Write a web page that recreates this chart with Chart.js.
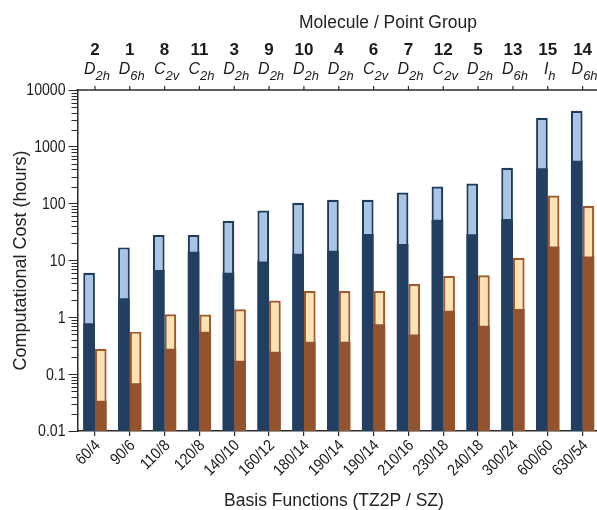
<!DOCTYPE html>
<html>
<head>
<meta charset="utf-8">
<script src="https://cdn.jsdelivr.net/npm/chart.js@4.4.1/dist/chart.umd.min.js"></script>
<style>
  html, body { margin: 0; padding: 0; background: #fff; overflow: hidden; }
  #wrap { width: 600px; height: 510px; position: relative; }
</style>
</head>
<body>
<div id="wrap"><canvas id="grafico"></canvas></div>
<script>
// basis functions (TZ2P / SZ) per molecule
const basisLabels = ["60/4", "90/6", "110/8", "120/8", "140/10", "160/12", "180/14", "190/14",
  "190/14", "210/16", "230/18", "240/18", "300/24", "600/60", "630/54"];
const moleculeIds = ["2", "1", "8", "11", "3", "9", "10", "4", "6", "7", "12", "5", "13", "15", "14"];
const groupLetter = ["D", "D", "C", "C", "D", "D", "D", "D", "C", "D", "C", "D", "D", "I", "D"];
const groupSub = ["2h", "6h", "2v", "2h", "2h", "2h", "2h", "2h", "2v", "2h", "2v", "2h", "6h", "h", "6h"];

// cost in hours: TZ2P (blue) and SZ (orange), total and partial part
const tz2pTotal = [6.1, 17, 28, 28, 50, 76, 104, 117, 117, 157, 200, 226, 427, 3240, 4300];
const tz2pPart = [0.79, 2.17, 6.8, 14.3, 6.1, 9.6, 13.1, 14.8, 29.4, 19.6, 52, 29, 54, 422, 567];
const szTotal = [0.28, 0.56, 1.13, 1.12, 1.39, 1.97, 2.92, 2.92, 2.92, 3.87, 5.36, 5.5, 11.2, 139, 91];
const szPart = [0.034, 0.069, 0.28, 0.56, 0.173, 0.249, 0.373, 0.373, 0.755, 0.5, 1.31, 0.71, 1.4, 17.6, 11.7];

const yTicks = [0.01, 0.1, 1, 10, 100, 1000, 10000];

const FONT = "'Liberation Sans', Arial, Helvetica, sans-serif";
const AXIS = "#2b2b2b";
const SQUEEZE = 0.88; // slightly narrow tick numbers

// extra axis decoration: top axis with molecule numbers, minor log ticks, labels, titles
const decoracao = {
  id: "decoracao",
  afterDraw(chart) {
    const { ctx, chartArea: a, scales: { x, y } } = chart;
    ctx.save();
    ctx.strokeStyle = AXIS;
    ctx.fillStyle = "#1a1a1a";

    // top axis line + ticks
    ctx.lineWidth = 1.5;
    ctx.beginPath();
    ctx.moveTo(a.left - 1, a.top);
    ctx.lineTo(a.right, a.top);
    ctx.stroke();
    ctx.lineWidth = 1.2;
    basisLabels.forEach((_, i) => {
      const px = x.getPixelForValue(i);
      ctx.beginPath();
      ctx.moveTo(px, a.top);
      ctx.lineTo(px, a.top - 4);
      ctx.stroke();
    });

    // minor ticks on the log axis
    ctx.lineWidth = 1;
    for (let e = -2; e < 4; e++) {
      for (let m = 2; m <= 9; m++) {
        const py = Math.round(y.getPixelForValue(m * Math.pow(10, e))) + 0.5;
        ctx.beginPath();
        ctx.moveTo(a.left - 6, py);
        ctx.lineTo(a.left, py);
        ctx.stroke();
      }
    }

    // y tick numbers
    ctx.font = "16px " + FONT;
    ctx.textAlign = "right";
    ctx.textBaseline = "middle";
    yTicks.forEach(v => {
      ctx.save();
      ctx.translate(a.left - 12, y.getPixelForValue(v) + 1);
      ctx.scale(SQUEEZE, 1);
      ctx.fillText(String(v), 0, 0);
      ctx.restore();
    });

    // x tick labels, rotated
    ctx.font = "16px " + FONT;
    basisLabels.forEach((lab, i) => {
      ctx.save();
      ctx.translate(x.getPixelForValue(i) + 3, a.bottom + 12);
      ctx.rotate(-Math.PI / 4);
      ctx.scale(SQUEEZE, 1);
      ctx.fillText(lab, 0, 0);
      ctx.restore();
    });

    // molecule numbers and point groups
    ctx.textBaseline = "alphabetic";
    basisLabels.forEach((_, i) => {
      const px = x.getPixelForValue(i);
      ctx.font = "bold 17px " + FONT;
      ctx.textAlign = "center";
      ctx.fillText(moleculeIds[i], px, 55);

      ctx.font = "italic 16px " + FONT;
      const wL = ctx.measureText(groupLetter[i]).width;
      ctx.font = "italic 13px " + FONT;
      const wS = ctx.measureText(groupSub[i]).width;
      const x0 = px + 2 - (wL + wS) / 2;
      ctx.textAlign = "left";
      ctx.font = "italic 16px " + FONT;
      ctx.fillText(groupLetter[i], x0, 74);
      ctx.font = "italic 13px " + FONT;
      ctx.fillText(groupSub[i], x0 + wL, 79.5);
    });

    // titles
    ctx.fillStyle = "#222";
    ctx.textAlign = "center";
    ctx.font = "17.5px " + FONT;
    ctx.fillText("Molecule / Point Group", 388, 28);
    ctx.fillText("Basis Functions (TZ2P / SZ)", 334, 506);

    ctx.font = "18px " + FONT;
    ctx.translate(26, (a.top + a.bottom) / 2);
    ctx.rotate(-Math.PI / 2);
    ctx.fillText("Computational Cost (hours)", 0, 0);
    ctx.restore();
  }
};

new Chart(document.getElementById("grafico"), {
  type: "bar",
  data: {
    labels: basisLabels,
    datasets: [
      { label: "TZ2P part", data: tz2pPart, stack: "tz2p", order: 0,
        backgroundColor: "#223f61", borderWidth: 0 },
      { label: "SZ part", data: szPart, stack: "sz", order: 0,
        backgroundColor: "#93532c", borderWidth: 0 },
      { label: "TZ2P", data: tz2pTotal, stack: "tz2p", order: 1,
        backgroundColor: "#a9c4e4", borderColor: "#1f3b5c", borderWidth: 2.2, borderSkipped: false },
      { label: "SZ", data: szTotal, stack: "sz", order: 1,
        backgroundColor: "#fde2b6", borderColor: "#a15a2c", borderWidth: 2.2, borderSkipped: false }
    ]
  },
  options: {
    responsive: true,
    maintainAspectRatio: false,
    animation: false,
    events: [],
    datasets: { bar: { categoryPercentage: 0.67, barPercentage: 1.0 } },
    layout: { padding: { top: 90, left: 0, right: 0, bottom: 0 } },
    plugins: {
      legend: { display: false },
      tooltip: { enabled: false }
    },
    scales: {
      x: {
        stacked: true,
        grid: { display: true, drawOnChartArea: false, offset: false, tickLength: 5, color: AXIS, lineWidth: 1.2 },
        border: { display: true, color: AXIS, width: 1.5 },
        ticks: { display: false },
        afterFit: s => { s.height = 79; }
      },
      y: {
        type: "logarithmic",
        stacked: false,
        min: 0.01,
        max: 10000,
        grid: { display: true, drawOnChartArea: false, tickLength: 9, color: AXIS, lineWidth: 1 },
        border: { display: true, color: AXIS, width: 1.5 },
        afterBuildTicks: s => { s.ticks = yTicks.map(v => ({ value: v })); },
        ticks: { display: false },
        afterFit: s => { s.width = 77.5; }
      }
    }
  },
  plugins: [decoracao]
});
</script>
</body>
</html>
